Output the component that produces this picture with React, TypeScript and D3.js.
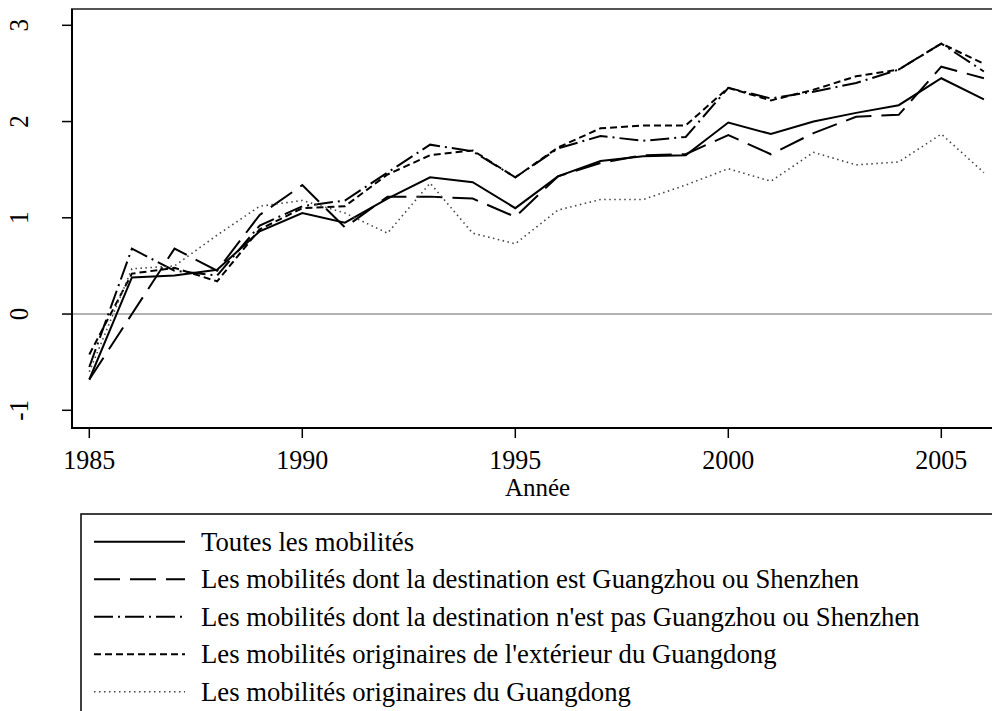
import React from 'react';
import * as d3 from 'd3';

// years on the x axis
const years = d3.range(1985, 2007);

// values, one list per series
const toutes = [-0.68, 0.38, 0.40, 0.46, 0.86, 1.05, 0.95, 1.20, 1.42, 1.37, 1.10, 1.43, 1.59, 1.64, 1.65, 1.99, 1.87, 2.00, 2.09, 2.17, 2.45, 2.23];
const versGZSZ = [-0.68, 0.00, 0.68, 0.45, 1.03, 1.34, 0.90, 1.22, 1.22, 1.20, 1.01, 1.43, 1.57, 1.65, 1.66, 1.86, 1.66, 1.88, 2.05, 2.07, 2.57, 2.45];
const horsGZSZ = [-0.55, 0.68, 0.45, 0.40, 0.92, 1.12, 1.18, 1.47, 1.76, 1.69, 1.42, 1.72, 1.85, 1.80, 1.84, 2.35, 2.24, 2.31, 2.40, 2.54, 2.81, 2.52];
const exterieur = [-0.42, 0.42, 0.48, 0.34, 0.88, 1.10, 1.12, 1.45, 1.65, 1.70, 1.42, 1.73, 1.93, 1.96, 1.96, 2.35, 2.22, 2.33, 2.47, 2.54, 2.81, 2.60];
const guangdong = [-0.60, 0.47, 0.50, 0.82, 1.12, 1.18, 1.05, 0.84, 1.36, 0.84, 0.73, 1.08, 1.19, 1.19, 1.34, 1.51, 1.38, 1.68, 1.55, 1.58, 1.87, 1.47];

const yTicks = [-1, 0, 1, 2, 3];
const xTicks = [1985, 1990, 1995, 2000, 2005];

const seriesNames = [
  'Toutes les mobilités',
  'Les mobilités dont la destination est Guangzhou ou Shenzhen',
  "Les mobilités dont la destination n'est pas Guangzhou ou Shenzhen",
  "Les mobilités originaires de l'extérieur du Guangdong",
  'Les mobilités originaires du Guangdong',
];
const seriesValues = [toutes, versGZSZ, horsGZSZ, exterieur, guangdong];

// line patterns, in the order of the legend
const styles = [
  { dash: null, color: '#000', width: 2 },
  { dash: '26,10', color: '#000', width: 2 },
  { dash: '19,5,2,5', color: '#000', width: 2 },
  { dash: '7,4', color: '#000', width: 2 },
  { dash: '1.5,3.5', color: '#444', width: 1.6 },
];

const FONT = "'Liberation Serif', 'Times New Roman', 'DejaVu Serif', serif";
const STRETCH = 1.06; // the original text is a bit taller than wide

export default function App() {
  const W = 992, H = 711;
  const left = 72, top = 9, bottom = 428, right = 1003;

  const x = d3.scaleLinear().domain([1985, 2006]).range([89.3, 983.9]);
  const y = d3.scaleLinear().domain([-1, 3]).range([410.3, 25.3]);

  const line = d3.line<number>()
    .x((d, i) => x(years[i]))
    .y(d => y(d));

  const legendTop = 514;
  const rowH = 37.5;
  const txt = { fontFamily: FONT };

  return (
    <svg width={W} height={H} style={{ position: 'absolute', left: 0, top: 0, background: '#fff' }}>
      <rect x={0} y={0} width={W} height={H} fill="#fff" />

      {/* plot region */}
      <rect x={left} y={top} width={right - left} height={bottom - top} fill="none" stroke="#555" strokeWidth={2} />
      <line x1={left} x2={right} y1={y(0)} y2={y(0)} stroke="#999" strokeWidth={1.5} />

      {seriesValues.map((vals, i) => (
        <path key={i} d={line(vals) || ''} fill="none" stroke={styles[i].color}
          strokeWidth={styles[i].width} strokeDasharray={styles[i].dash || undefined}
          strokeLinejoin="miter" />
      ))}

      {/* axes */}
      <line x1={left} x2={left} y1={top} y2={bottom} stroke="#000" strokeWidth={2} />
      <line x1={left - 1} x2={right} y1={bottom} y2={bottom} stroke="#000" strokeWidth={2} />

      {yTicks.map(t => (
        <g key={t}>
          <line x1={left - 10} x2={left} y1={y(t)} y2={y(t)} stroke="#000" strokeWidth={1.5} />
          <text transform={`translate(28,${y(t)}) rotate(-90) scale(1,${STRETCH})`} textAnchor="middle" fontSize={25} style={txt}>{t}</text>
        </g>
      ))}

      {xTicks.map(t => (
        <g key={t}>
          <line x1={x(t)} x2={x(t)} y1={bottom} y2={bottom + 10} stroke="#000" strokeWidth={1.5} />
          <text transform={`translate(${x(t)},469) scale(1,${STRETCH})`} textAnchor="middle" fontSize={26} style={txt}>{t}</text>
        </g>
      ))}
      <text transform={`translate(${(left + right) / 2},496)`} textAnchor="middle" fontSize={25} style={txt}>Année</text>

      {/* legend */}
      <rect x={81} y={legendTop} width={940} height={240} fill="none" stroke="#000" strokeWidth={1.5} />
      {seriesNames.map((name, i) => {
        const cy = legendTop + 27.7 + i * rowH;
        return (
          <g key={name}>
            <line x1={94} x2={185} y1={cy} y2={cy} stroke={styles[i].color}
              strokeWidth={styles[i].width} strokeDasharray={styles[i].dash || undefined} />
            <text transform={`translate(201,${cy + 9}) scale(1,${STRETCH})`} fontSize={26.7} style={txt}>{name}</text>
          </g>
        );
      })}
    </svg>
  );
}
